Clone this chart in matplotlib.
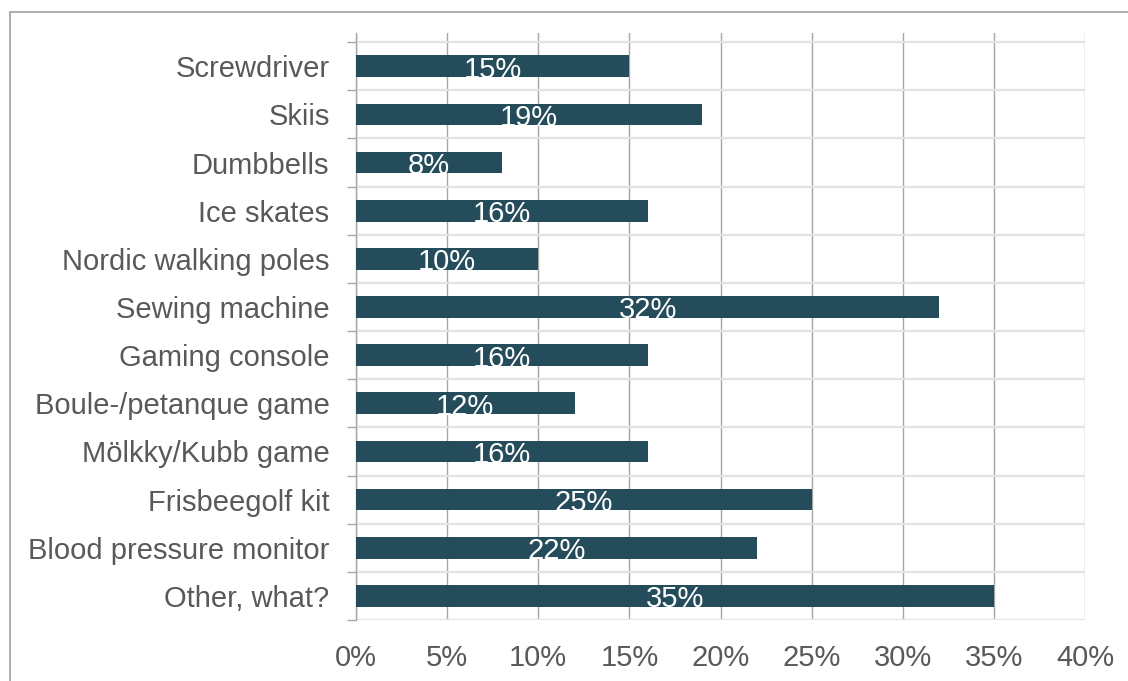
import matplotlib.pyplot as plt
from matplotlib.patches import Rectangle
from matplotlib.ticker import FixedLocator

categories = ['Screwdriver', 'Skiis', 'Dumbbells', 'Ice skates', 'Nordic walking poles',
              'Sewing machine', 'Gaming console', 'Boule-/petanque game', 'Mölkky/Kubb game',
              'Frisbeegolf kit', 'Blood pressure monitor', 'Other, what?']
values = [15, 19, 8, 16, 10, 32, 16, 12, 16, 25, 22, 35]
xticks = [0, 5, 10, 15, 20, 25, 30, 35, 40]

bar_color = '#244c5a'
text_color = '#595959'
grid_color = '#a6a6a6'

plt.rcParams['font.family'] = ['Liberation Sans', 'DejaVu Sans']

fig = plt.figure(figsize=(11.28, 6.81), dpi=100)
ax = fig.add_axes([0.3156, 0.0896, 0.6463, 0.8619])

y = list(range(len(categories)))
ax.barh(y, values, height=0.45, color=bar_color, zorder=3)

for yi, v in zip(y, values):
    ax.text(v / 2, yi + 0.07, f'{v}%', color='white', ha='center', va='center',
            fontsize=21, zorder=4)

ax.set_xlim(0, 40)
ax.set_ylim(len(categories) - 0.5, -0.69)

# vertical gridlines
for xt in xticks:
    ax.axvline(xt, color=grid_color, lw=1.0, zorder=1)
# light category boundaries
for k in range(len(categories) + 1):
    ax.axhline(k - 0.5, color='#e3e3e3', lw=1.6, zorder=2)

ax.set_xticks(xticks)
ax.set_xticklabels([f'{t}%' for t in xticks])
ax.set_yticks(y)
ax.set_yticklabels(categories)
ax.yaxis.set_minor_locator(FixedLocator([k - 0.5 for k in range(len(categories) + 1)]))

ax.tick_params(axis='x', length=0, pad=17, labelsize=21, labelcolor=text_color)
ax.tick_params(axis='y', which='major', length=0, pad=19, labelsize=21, labelcolor=text_color)
ax.tick_params(axis='y', which='minor', length=6.5, width=1, color=grid_color, direction='out')

for side in ['top', 'right', 'bottom']:
    ax.spines[side].set_visible(False)
ax.spines['left'].set_color(grid_color)
ax.spines['left'].set_linewidth(1.0)

# chart border
fig.patches.append(Rectangle((10 / 1128, -0.1), 1.2, 1 - 12 / 681 + 0.1,
                             transform=fig.transFigure, fill=False,
                             edgecolor='#a0a0a0', lw=1.2))

fig.savefig('out.png', dpi=100)
